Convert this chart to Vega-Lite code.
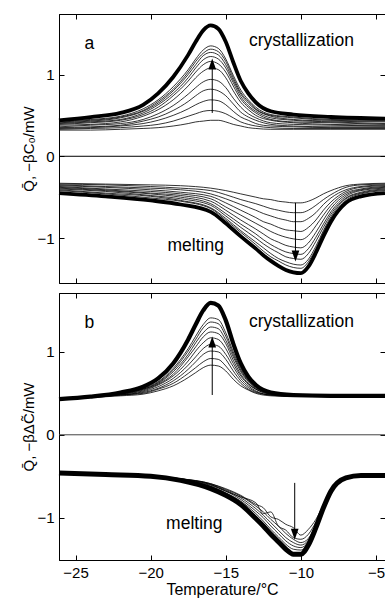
{
"$schema": "https://vega.github.io/schema/vega-lite/v6.json",
"padding": {"left": 21, "top": 13, "right": 0, "bottom": 0},
"spacing": 8,
"config": {
  "view": {"stroke": "black", "strokeWidth": 1},
  "axis": {"grid": false, "domainColor": "black", "tickColor": "black", "tickSize": -5, "tickWidth": 1, "labelColor": "black", "titleColor": "black", "labelFont": "Liberation Sans", "titleFont": "Liberation Sans", "labelFontSize": 15, "titleFontSize": 15, "titleFontWeight": "normal", "labelFlush": false},
  "text": {"font": "Liberation Sans"}
},
"datasets": {
  "ac": [
    {"x":-26.1,"c0":0.32,"c1":0.33,"c2":0.34,"c3":0.35,"c4":0.36,"c5":0.38,"c6":0.39,"c7":0.40,"c8":0.41,"c9":0.42,"c10":0.43,"T":0.44},
    {"x":-24,"c0":0.32,"c1":0.34,"c2":0.35,"c3":0.36,"c4":0.38,"c5":0.39,"c6":0.41,"c7":0.42,"c8":0.43,"c9":0.44,"c10":0.45,"T":0.48},
    {"x":-22,"c0":0.33,"c1":0.35,"c2":0.37,"c3":0.38,"c4":0.40,"c5":0.42,"c6":0.44,"c7":0.45,"c8":0.47,"c9":0.48,"c10":0.49,"T":0.53},
    {"x":-20.5,"c0":0.34,"c1":0.37,"c2":0.40,"c3":0.43,"c4":0.45,"c5":0.49,"c6":0.51,"c7":0.53,"c8":0.55,"c9":0.56,"c10":0.58,"T":0.63},
    {"x":-19.5,"c0":0.35,"c1":0.39,"c2":0.44,"c3":0.48,"c4":0.52,"c5":0.57,"c6":0.60,"c7":0.63,"c8":0.65,"c9":0.67,"c10":0.69,"T":0.77},
    {"x":-18.5,"c0":0.37,"c1":0.43,"c2":0.50,"c3":0.56,"c4":0.62,"c5":0.69,"c6":0.74,"c7":0.77,"c8":0.80,"c9":0.82,"c10":0.85,"T":0.97},
    {"x":-17.5,"c0":0.40,"c1":0.49,"c2":0.58,"c3":0.67,"c4":0.76,"c5":0.86,"c6":0.92,"c7":0.96,"c8":1.00,"c9":1.03,"c10":1.06,"T":1.24},
    {"x":-17,"c0":0.42,"c1":0.52,"c2":0.63,"c3":0.74,"c4":0.84,"c5":0.96,"c6":1.03,"c7":1.08,"c8":1.12,"c9":1.16,"c10":1.19,"T":1.40},
    {"x":-16.5,"c0":0.43,"c1":0.55,"c2":0.67,"c3":0.80,"c4":0.91,"c5":1.04,"c6":1.12,"c7":1.18,"c8":1.23,"c9":1.26,"c10":1.30,"T":1.54},
    {"x":-16,"c0":0.44,"c1":0.56,"c2":0.69,"c3":0.82,"c4":0.94,"c5":1.08,"c6":1.16,"c7":1.22,"c8":1.27,"c9":1.31,"c10":1.35,"T":1.60},
    {"x":-15.5,"c0":0.44,"c1":0.55,"c2":0.68,"c3":0.80,"c4":0.92,"c5":1.06,"c6":1.13,"c7":1.19,"c8":1.24,"c9":1.28,"c10":1.32,"T":1.56},
    {"x":-15,"c0":0.42,"c1":0.52,"c2":0.63,"c3":0.74,"c4":0.84,"c5":0.96,"c6":1.03,"c7":1.08,"c8":1.12,"c9":1.16,"c10":1.19,"T":1.40},
    {"x":-14.5,"c0":0.39,"c1":0.47,"c2":0.55,"c3":0.64,"c4":0.71,"c5":0.80,"c6":0.86,"c7":0.90,"c8":0.93,"c9":0.96,"c10":0.99,"T":1.15},
    {"x":-14,"c0":0.37,"c1":0.42,"c2":0.48,"c3":0.54,"c4":0.60,"c5":0.66,"c6":0.70,"c7":0.73,"c8":0.76,"c9":0.78,"c10":0.81,"T":0.92},
    {"x":-13.5,"c0":0.35,"c1":0.39,"c2":0.44,"c3":0.48,"c4":0.52,"c5":0.57,"c6":0.60,"c7":0.62,"c8":0.65,"c9":0.67,"c10":0.69,"T":0.77},
    {"x":-13,"c0":0.34,"c1":0.37,"c2":0.40,"c3":0.44,"c4":0.47,"c5":0.50,"c6":0.53,"c7":0.55,"c8":0.57,"c9":0.58,"c10":0.60,"T":0.66},
    {"x":-12,"c0":0.33,"c1":0.35,"c2":0.37,"c3":0.39,"c4":0.41,"c5":0.44,"c6":0.45,"c7":0.47,"c8":0.49,"c9":0.50,"c10":0.51,"T":0.55},
    {"x":-10.5,"c0":0.33,"c1":0.34,"c2":0.36,"c3":0.37,"c4":0.39,"c5":0.41,"c6":0.42,"c7":0.44,"c8":0.45,"c9":0.47,"c10":0.48,"T":0.51},
    {"x":-8,"c0":0.33,"c1":0.34,"c2":0.35,"c3":0.36,"c4":0.38,"c5":0.39,"c6":0.41,"c7":0.42,"c8":0.43,"c9":0.44,"c10":0.45,"T":0.48},
    {"x":-4.4,"c0":0.33,"c1":0.34,"c2":0.35,"c3":0.36,"c4":0.37,"c5":0.38,"c6":0.39,"c7":0.40,"c8":0.42,"c9":0.43,"c10":0.44,"T":0.46}
  ],
  "am": [
    {"x":-26.1,"m0":-0.33,"m1":-0.34,"m2":-0.35,"m3":-0.36,"m4":-0.37,"m5":-0.38,"m6":-0.39,"m7":-0.40,"m8":-0.41,"m9":-0.42,"T":-0.45},
    {"x":-23,"m0":-0.34,"m1":-0.35,"m2":-0.37,"m3":-0.38,"m4":-0.40,"m5":-0.41,"m6":-0.42,"m7":-0.43,"m8":-0.45,"m9":-0.46,"T":-0.49},
    {"x":-20,"m0":-0.35,"m1":-0.37,"m2":-0.39,"m3":-0.41,"m4":-0.43,"m5":-0.45,"m6":-0.46,"m7":-0.48,"m8":-0.49,"m9":-0.51,"T":-0.54},
    {"x":-18,"m0":-0.36,"m1":-0.39,"m2":-0.41,"m3":-0.44,"m4":-0.46,"m5":-0.48,"m6":-0.50,"m7":-0.52,"m8":-0.54,"m9":-0.55,"T":-0.59},
    {"x":-16,"m0":-0.39,"m1":-0.42,"m2":-0.46,"m3":-0.49,"m4":-0.52,"m5":-0.55,"m6":-0.58,"m7":-0.60,"m8":-0.63,"m9":-0.64,"T":-0.68},
    {"x":-15,"m0":-0.42,"m1":-0.47,"m2":-0.52,"m3":-0.57,"m4":-0.62,"m5":-0.66,"m6":-0.70,"m7":-0.73,"m8":-0.76,"m9":-0.78,"T":-0.82},
    {"x":-14,"m0":-0.46,"m1":-0.53,"m2":-0.59,"m3":-0.66,"m4":-0.72,"m5":-0.78,"m6":-0.83,"m7":-0.87,"m8":-0.91,"m9":-0.93,"T":-0.98},
    {"x":-13,"m0":-0.50,"m1":-0.58,"m2":-0.66,"m3":-0.75,"m4":-0.82,"m5":-0.89,"m6":-0.95,"m7":-1.00,"m8":-1.05,"m9":-1.08,"T":-1.13},
    {"x":-12.5,"m0":-0.52,"m1":-0.61,"m2":-0.70,"m3":-0.80,"m4":-0.87,"m5":-0.95,"m6":-1.02,"m7":-1.07,"m8":-1.12,"m9":-1.16,"T":-1.21},
    {"x":-12,"m0":-0.53,"m1":-0.64,"m2":-0.73,"m3":-0.83,"m4":-0.92,"m5":-1.01,"m6":-1.08,"m7":-1.13,"m8":-1.19,"m9":-1.23,"T":-1.28},
    {"x":-11.5,"m0":-0.55,"m1":-0.66,"m2":-0.76,"m3":-0.87,"m4":-0.96,"m5":-1.05,"m6":-1.13,"m7":-1.18,"m8":-1.25,"m9":-1.28,"T":-1.34},
    {"x":-11,"m0":-0.56,"m1":-0.68,"m2":-0.78,"m3":-0.90,"m4":-0.99,"m5":-1.09,"m6":-1.17,"m7":-1.23,"m8":-1.29,"m9":-1.33,"T":-1.39},
    {"x":-10.5,"m0":-0.57,"m1":-0.69,"m2":-0.80,"m3":-0.91,"m4":-1.01,"m5":-1.11,"m6":-1.19,"m7":-1.25,"m8":-1.32,"m9":-1.36,"T":-1.42},
    {"x":-10,"m0":-0.57,"m1":-0.69,"m2":-0.80,"m3":-0.92,"m4":-1.02,"m5":-1.12,"m6":-1.20,"m7":-1.26,"m8":-1.33,"m9":-1.37,"T":-1.43},
    {"x":-9.5,"m0":-0.55,"m1":-0.66,"m2":-0.76,"m3":-0.87,"m4":-0.97,"m5":-1.06,"m6":-1.13,"m7":-1.19,"m8":-1.26,"m9":-1.29,"T":-1.35},
    {"x":-9,"m0":-0.51,"m1":-0.60,"m2":-0.69,"m3":-0.78,"m4":-0.85,"m5":-0.93,"m6":-0.99,"m7":-1.04,"m8":-1.10,"m9":-1.13,"T":-1.18},
    {"x":-8.5,"m0":-0.46,"m1":-0.53,"m2":-0.59,"m3":-0.66,"m4":-0.72,"m5":-0.78,"m6":-0.83,"m7":-0.87,"m8":-0.91,"m9":-0.93,"T":-0.98},
    {"x":-8,"m0":-0.42,"m1":-0.47,"m2":-0.51,"m3":-0.56,"m4":-0.60,"m5":-0.64,"m6":-0.68,"m7":-0.71,"m8":-0.74,"m9":-0.76,"T":-0.80},
    {"x":-7,"m0":-0.36,"m1":-0.38,"m2":-0.41,"m3":-0.43,"m4":-0.45,"m5":-0.47,"m6":-0.49,"m7":-0.51,"m8":-0.52,"m9":-0.54,"T":-0.57},
    {"x":-6,"m0":-0.34,"m1":-0.35,"m2":-0.37,"m3":-0.38,"m4":-0.40,"m5":-0.41,"m6":-0.42,"m7":-0.44,"m8":-0.45,"m9":-0.46,"T":-0.49},
    {"x":-4.4,"m0":-0.33,"m1":-0.34,"m2":-0.35,"m3":-0.36,"m4":-0.37,"m5":-0.38,"m6":-0.39,"m7":-0.40,"m8":-0.41,"m9":-0.42,"T":-0.45}
  ],
  "bc": [
    {"x":-26.1,"b0":0.43,"b1":0.43,"b2":0.44,"b3":0.44,"b4":0.44,"b5":0.44,"b6":0.44,"b7":0.44,"b8":0.44,"T":0.43},
    {"x":-24,"b0":0.46,"b1":0.46,"b2":0.46,"b3":0.46,"b4":0.46,"b5":0.46,"b6":0.46,"b7":0.45,"b8":0.45,"T":0.46},
    {"x":-22,"b0":0.50,"b1":0.50,"b2":0.50,"b3":0.49,"b4":0.49,"b5":0.48,"b6":0.48,"b7":0.48,"b8":0.47,"T":0.51},
    {"x":-20.5,"b0":0.56,"b1":0.55,"b2":0.55,"b3":0.54,"b4":0.53,"b5":0.52,"b6":0.51,"b7":0.50,"b8":0.49,"T":0.58},
    {"x":-19.5,"b0":0.64,"b1":0.63,"b2":0.62,"b3":0.61,"b4":0.60,"b5":0.58,"b6":0.56,"b7":0.55,"b8":0.53,"T":0.68},
    {"x":-18.5,"b0":0.80,"b1":0.78,"b2":0.76,"b3":0.73,"b4":0.71,"b5":0.68,"b6":0.65,"b7":0.62,"b8":0.59,"T":0.86},
    {"x":-17.5,"b0":1.04,"b1":1.01,"b2":0.97,"b3":0.94,"b4":0.89,"b5":0.84,"b6":0.79,"b7":0.74,"b8":0.69,"T":1.15},
    {"x":-17,"b0":1.19,"b1":1.15,"b2":1.11,"b3":1.06,"b4":1.01,"b5":0.94,"b6":0.88,"b7":0.81,"b8":0.75,"T":1.33},
    {"x":-16.5,"b0":1.33,"b1":1.29,"b2":1.23,"b3":1.18,"b4":1.11,"b5":1.04,"b6":0.97,"b7":0.88,"b8":0.81,"T":1.50},
    {"x":-16,"b0":1.41,"b1":1.36,"b2":1.30,"b3":1.24,"b4":1.17,"b5":1.09,"b6":1.01,"b7":0.92,"b8":0.84,"T":1.59},
    {"x":-15.5,"b0":1.39,"b1":1.34,"b2":1.28,"b3":1.22,"b4":1.15,"b5":1.07,"b6":1.00,"b7":0.91,"b8":0.83,"T":1.56},
    {"x":-15,"b0":1.23,"b1":1.19,"b2":1.14,"b3":1.10,"b4":1.04,"b5":0.97,"b6":0.91,"b7":0.83,"b8":0.77,"T":1.38},
    {"x":-14.5,"b0":1.00,"b1":0.97,"b2":0.94,"b3":0.90,"b4":0.86,"b5":0.82,"b6":0.77,"b7":0.72,"b8":0.67,"T":1.10},
    {"x":-14,"b0":0.80,"b1":0.78,"b2":0.76,"b3":0.73,"b4":0.71,"b5":0.68,"b6":0.65,"b7":0.62,"b8":0.59,"T":0.86},
    {"x":-13.5,"b0":0.66,"b1":0.65,"b2":0.64,"b3":0.62,"b4":0.61,"b5":0.59,"b6":0.57,"b7":0.55,"b8":0.54,"T":0.70},
    {"x":-13,"b0":0.58,"b1":0.57,"b2":0.56,"b3":0.55,"b4":0.55,"b5":0.53,"b6":0.52,"b7":0.51,"b8":0.50,"T":0.60},
    {"x":-12,"b0":0.50,"b1":0.50,"b2":0.50,"b3":0.49,"b4":0.49,"b5":0.48,"b6":0.48,"b7":0.48,"b8":0.47,"T":0.51},
    {"x":-10.5,"b0":0.48,"b1":0.47,"b2":0.47,"b3":0.47,"b4":0.47,"b5":0.47,"b6":0.47,"b7":0.46,"b8":0.46,"T":0.48},
    {"x":-8,"b0":0.47,"b1":0.47,"b2":0.47,"b3":0.46,"b4":0.46,"b5":0.46,"b6":0.46,"b7":0.46,"b8":0.46,"T":0.47},
    {"x":-4.4,"b0":0.47,"b1":0.47,"b2":0.47,"b3":0.46,"b4":0.46,"b5":0.46,"b6":0.46,"b7":0.46,"b8":0.46,"T":0.47}
  ],
  "bm": [
    {"x":-26.1,"t1":-0.46,"t2":-0.46,"t3":-0.46,"t4":-0.46,"t5":-0.46,"t6":-0.46,"T":-0.46},
    {"x":-23,"t1":-0.48,"t2":-0.48,"t3":-0.48,"t4":-0.48,"t5":-0.48,"t6":-0.48,"T":-0.48},
    {"x":-20,"t1":-0.50,"t2":-0.50,"t3":-0.50,"t4":-0.50,"t5":-0.50,"t6":-0.50,"T":-0.50},
    {"x":-18,"t1":-0.54,"t2":-0.54,"t3":-0.53,"t4":-0.53,"t5":-0.53,"t6":-0.54,"T":-0.55},
    {"x":-16,"t1":-0.62,"t2":-0.61,"t3":-0.60,"t4":-0.59,"t5":-0.59,"t6":-0.60,"T":-0.65},
    {"x":-15,"t1":-0.70,"t2":-0.68,"t3":-0.67,"t4":-0.66,"t5":-0.65,"t6":-0.68,"T":-0.73},
    {"x":-14,"t1":-0.80,"t2":-0.78,"t3":-0.76,"t4":-0.74,"t5":-0.73,"t6":-0.75,"T":-0.84},
    {"x":-13,"t1":-0.95,"t2":-0.92,"t3":-0.89,"t4":-0.86,"t5":-0.84,"t6":-0.82,"T":-1.01},
    {"x":-12.5,"t1":-1.04,"t2":-1.00,"t3":-0.97,"t4":-0.93,"t5":-0.88,"t6":-0.95,"T":-1.10},
    {"x":-12,"t1":-1.14,"t2":-1.10,"t3":-1.06,"t4":-1.02,"t5":-0.99,"t6":-0.93,"T":-1.20},
    {"x":-11.5,"t1":-1.23,"t2":-1.19,"t3":-1.15,"t4":-1.10,"t5":-1.02,"t6":-1.10,"T":-1.29},
    {"x":-11,"t1":-1.32,"t2":-1.28,"t3":-1.24,"t4":-1.19,"t5":-1.08,"t6":-1.15,"T":-1.38},
    {"x":-10.5,"t1":-1.38,"t2":-1.34,"t3":-1.30,"t4":-1.26,"t5":-1.12,"t6":-1.24,"T":-1.44},
    {"x":-10,"t1":-1.39,"t2":-1.36,"t3":-1.33,"t4":-1.30,"t5":-1.21,"t6":-1.26,"T":-1.44},
    {"x":-9.5,"t1":-1.30,"t2":-1.29,"t3":-1.27,"t4":-1.25,"t5":-1.14,"t6":-1.20,"T":-1.33},
    {"x":-9,"t1":-1.10,"t2":-1.10,"t3":-1.09,"t4":-1.08,"t5":-1.02,"t6":-1.05,"T":-1.12},
    {"x":-8.5,"t1":-0.87,"t2":-0.87,"t3":-0.86,"t4":-0.86,"t5":-0.84,"t6":-0.85,"T":-0.88},
    {"x":-8,"t1":-0.67,"t2":-0.67,"t3":-0.67,"t4":-0.66,"t5":-0.66,"t6":-0.66,"T":-0.68},
    {"x":-7,"t1":-0.52,"t2":-0.52,"t3":-0.52,"t4":-0.52,"t5":-0.52,"t6":-0.52,"T":-0.52},
    {"x":-6,"t1":-0.49,"t2":-0.49,"t3":-0.49,"t4":-0.49,"t5":-0.49,"t6":-0.49,"T":-0.49},
    {"x":-4.4,"t1":-0.49,"t2":-0.49,"t3":-0.49,"t4":-0.49,"t5":-0.49,"t6":-0.49,"T":-0.49}
  ]
},
"vconcat": [
  {
    "width": 326, "height": 269,
    "resolve": {"axis": {"x": "independent", "y": "independent"}},
    "layer": [
      {
        "data": {"name": "ac"},
        "transform": [{"fold": ["c0","c1","c2","c3","c4","c5","c6","c7","c8","c9","c10"], "as": ["k","v"]}],
        "mark": {"type": "line", "interpolate": "monotone", "stroke": "black", "strokeWidth": 0.8},
        "encoding": {
          "x": {"field": "x", "type": "quantitative", "scale": {"domain": [-26.1, -4.4], "nice": false, "zero": false},
                "axis": {"orient": "bottom", "values": [-25,-20,-15,-10,-5], "labels": false, "title": null}},
          "y": {"field": "v", "type": "quantitative", "scale": {"domain": [-1.55, 1.74], "nice": false, "zero": false},
                "axis": {"orient": "left", "values": [-1,0,1], "labelPadding": 10, "title": "Q̄, −βC₀/mW", "titlePadding": 0}},
          "detail": {"field": "k"}
        }
      },
      {
        "data": {"name": "ac"},
        "mark": {"type": "line", "interpolate": "monotone", "stroke": "black", "strokeWidth": 3.8},
        "encoding": {"x": {"field": "x", "type": "quantitative", "axis": null}, "y": {"field": "T", "type": "quantitative", "axis": null}}
      },
      {
        "data": {"name": "am"},
        "transform": [{"fold": ["m0","m1","m2","m3","m4","m5","m6","m7","m8","m9"], "as": ["k","v"]}],
        "mark": {"type": "line", "interpolate": "monotone", "stroke": "black", "strokeWidth": 0.8},
        "encoding": {"x": {"field": "x", "type": "quantitative", "axis": null}, "y": {"field": "v", "type": "quantitative", "axis": null}, "detail": {"field": "k"}}
      },
      {
        "data": {"name": "am"},
        "mark": {"type": "line", "interpolate": "monotone", "stroke": "black", "strokeWidth": 3.8},
        "encoding": {"x": {"field": "x", "type": "quantitative", "axis": null}, "y": {"field": "T", "type": "quantitative", "axis": null}}
      },
      {
        "data": {"values": [{}]},
        "mark": {"type": "rule", "stroke": "black", "strokeWidth": 1},
        "encoding": {"y": {"datum": 0, "type": "quantitative", "axis": null}}
      },
      {
        "data": {"values": [{"x": -15.9, "y1": 0.53, "y2": 1.13}, {"x": -10.36, "y1": -0.57, "y2": -1.22}]},
        "mark": {"type": "rule", "stroke": "black", "strokeWidth": 1},
        "encoding": {"x": {"field": "x", "type": "quantitative", "axis": null}, "y": {"field": "y1", "type": "quantitative", "axis": null}, "y2": {"field": "y2"}}
      },
      {
        "data": {"values": [{"x": -15.9, "y": 1.13, "d": "up"}, {"x": -10.36, "y": -1.22, "d": "down"}]},
        "mark": {"type": "point", "filled": true, "color": "black", "opacity": 1, "size": 121, "strokeWidth": 0},
        "encoding": {
          "x": {"field": "x", "type": "quantitative", "axis": null},
          "y": {"field": "y", "type": "quantitative", "axis": null},
          "shape": {"field": "d", "type": "nominal", "scale": {"domain": ["up","down"], "range": ["M0,-1L0.7,1L-0.7,1Z", "M0,1L0.7,-1L-0.7,-1Z"]}, "legend": null}
        }
      },
      {
        "data": {"values": [{"x": -24.4, "y": 1.31, "t": "a"}, {"x": -13.46, "y": 1.346, "t": "crystallization"}, {"x": -18.88, "y": -1.163, "t": "melting"}]},
        "mark": {"type": "text", "align": "left", "baseline": "alphabetic", "fontSize": 17.5, "font": "Liberation Sans", "color": "black"},
        "encoding": {"x": {"field": "x", "type": "quantitative", "axis": null}, "y": {"field": "y", "type": "quantitative", "axis": null}, "text": {"field": "t"}}
      },
      {
        "data": {"values": [{"x": -20, "y": 0}]},
        "mark": {"type": "point", "opacity": 0},
        "encoding": {
          "x": {"field": "x", "type": "quantitative", "axis": {"orient": "top", "values": [-25,-20,-15,-10,-5], "labels": false, "title": null}},
          "y": {"field": "y", "type": "quantitative", "axis": {"orient": "right", "values": [-1,0,1], "labels": false, "title": null}}
        }
      }
    ]
  },
  {
    "width": 326, "height": 267,
    "resolve": {"axis": {"x": "independent", "y": "independent"}},
    "layer": [
      {
        "data": {"name": "bc"},
        "transform": [{"fold": ["b0","b1","b2","b3","b4","b5","b6","b7","b8"], "as": ["k","v"]}],
        "mark": {"type": "line", "interpolate": "monotone", "stroke": "black", "strokeWidth": 0.8},
        "encoding": {
          "x": {"field": "x", "type": "quantitative", "scale": {"domain": [-26.1, -4.4], "nice": false, "zero": false},
                "axis": {"orient": "bottom", "values": [-25,-20,-15,-10,-5], "labelPadding": 10, "title": "Temperature/°C", "titleFontSize": 16, "titlePadding": 1}},
          "y": {"field": "v", "type": "quantitative", "scale": {"domain": [-1.51, 1.71], "nice": false, "zero": false},
                "axis": {"orient": "left", "values": [-1,0,1], "labelPadding": 10, "title": "Q̄, −βΔC̃/mW", "titlePadding": 0}},
          "detail": {"field": "k"}
        }
      },
      {
        "data": {"name": "bc"},
        "mark": {"type": "line", "interpolate": "monotone", "stroke": "black", "strokeWidth": 4.2},
        "encoding": {"x": {"field": "x", "type": "quantitative", "axis": null}, "y": {"field": "T", "type": "quantitative", "axis": null}}
      },
      {
        "data": {"name": "bm"},
        "transform": [{"fold": ["t1","t2","t3","t4","t5","t6"], "as": ["k","v"]}],
        "mark": {"type": "line", "interpolate": "monotone", "stroke": "black", "strokeWidth": 0.8},
        "encoding": {"x": {"field": "x", "type": "quantitative", "axis": null}, "y": {"field": "v", "type": "quantitative", "axis": null}, "detail": {"field": "k"}}
      },
      {
        "data": {"name": "bm"},
        "mark": {"type": "line", "interpolate": "monotone", "stroke": "black", "strokeWidth": 5},
        "encoding": {"x": {"field": "x", "type": "quantitative", "axis": null}, "y": {"field": "T", "type": "quantitative", "axis": null}}
      },
      {
        "data": {"values": [{}]},
        "mark": {"type": "rule", "stroke": "#444", "strokeWidth": 1},
        "encoding": {"y": {"datum": 0, "type": "quantitative", "axis": null}}
      },
      {
        "data": {"values": [{"x": -15.9, "y1": 0.48, "y2": 1.12}, {"x": -10.41, "y1": -0.58, "y2": -1.2}]},
        "mark": {"type": "rule", "stroke": "black", "strokeWidth": 1},
        "encoding": {"x": {"field": "x", "type": "quantitative", "axis": null}, "y": {"field": "y1", "type": "quantitative", "axis": null}, "y2": {"field": "y2"}}
      },
      {
        "data": {"values": [{"x": -15.9, "y": 1.12, "d": "up"}, {"x": -10.41, "y": -1.2, "d": "down"}]},
        "mark": {"type": "point", "filled": true, "color": "black", "opacity": 1, "size": 121, "strokeWidth": 0},
        "encoding": {
          "x": {"field": "x", "type": "quantitative", "axis": null},
          "y": {"field": "y", "type": "quantitative", "axis": null},
          "shape": {"field": "d", "type": "nominal", "scale": {"domain": ["up","down"], "range": ["M0,-1L0.7,1L-0.7,1Z", "M0,1L0.7,-1L-0.7,-1Z"]}, "legend": null}
        }
      },
      {
        "data": {"values": [{"x": -24.4, "y": 1.29, "t": "b"}, {"x": -13.46, "y": 1.30, "t": "crystallization"}, {"x": -18.97, "y": -1.136, "t": "melting"}]},
        "mark": {"type": "text", "align": "left", "baseline": "alphabetic", "fontSize": 17.5, "font": "Liberation Sans", "color": "black"},
        "encoding": {"x": {"field": "x", "type": "quantitative", "axis": null}, "y": {"field": "y", "type": "quantitative", "axis": null}, "text": {"field": "t"}}
      },
      {
        "data": {"values": [{"x": -20, "y": 0}]},
        "mark": {"type": "point", "opacity": 0},
        "encoding": {
          "x": {"field": "x", "type": "quantitative", "axis": {"orient": "top", "values": [-25,-20,-15,-10,-5], "labels": false, "title": null}},
          "y": {"field": "y", "type": "quantitative", "axis": {"orient": "right", "values": [-1,0,1], "labels": false, "title": null}}
        }
      }
    ]
  }
]
}
